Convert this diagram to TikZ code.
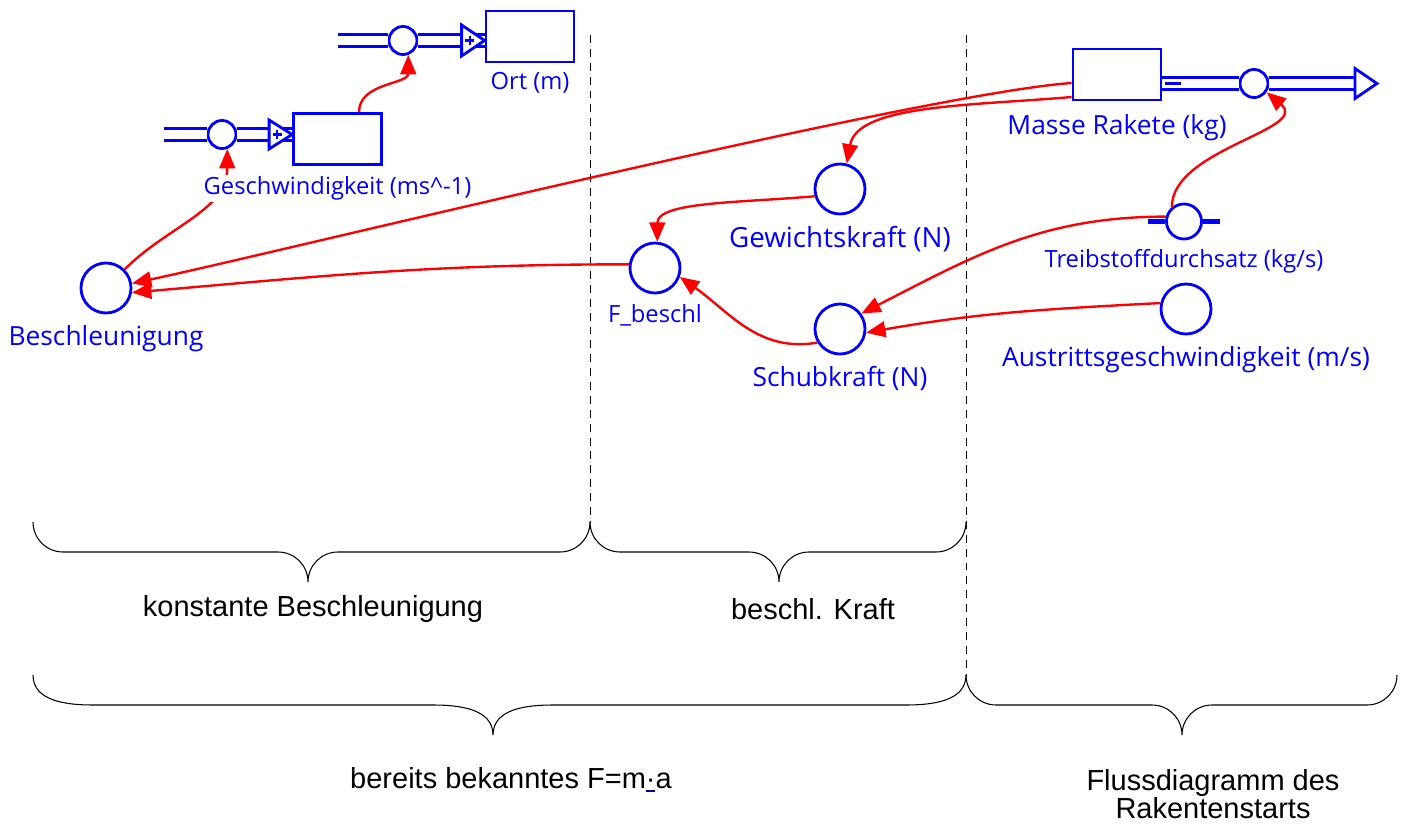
\documentclass[tikz,border=0pt]{standalone}
\usepackage{fontspec}
\setmainfont{Liberation Sans}
\newfontfamily\simfont{Open Sans}
\usetikzlibrary{arrows.meta,positioning}

\tikzset{
  aux/.style={circle, draw=blue, line width=1.6pt, fill=white, inner sep=0pt, minimum size=1.0cm},
  stock/.style={rectangle, draw=blue, line width=1.6pt, fill=white, minimum width=1.76cm, minimum height=1.02cm},
  valve/.style={circle, draw=blue, line width=1.6pt, fill=white, inner sep=0pt, minimum size=0.56cm},
  pipe/.style={draw=blue, line width=1.6pt, double=white, double distance=0.185cm},
  inflow/.style={draw=blue, line width=1.6pt, fill=white, line join=miter},
  bar/.style={blue, line width=2.8pt},
  lbl/.style={text=blue, font=\simfont\fontsize{15}{17}\selectfont, inner sep=1pt, fill=white},
  slbl/.style={text=blue, font=\simfont\fontsize{13.5}{15}\selectfont, inner sep=1pt, fill=white},
  link/.style={red, line width=1.35pt, -{Triangle[length=11pt,width=9pt]}},
  sep/.style={line width=0.5pt, dash pattern=on 4.5pt off 3.4pt},
  klammer/.style={line width=0.6pt},
  note/.style={font=\fontsize{16.5}{16}\selectfont, align=center, inner sep=1pt}
}

\begin{document}
\begin{tikzpicture}[line cap=butt]
  \useasboundingbox (0,0) rectangle (28.2,16.5);

  % Bereichsgrenzen
  \draw[sep] (11.80,15.80) -- (11.80,6.06);
  \draw[sep] (19.32,15.80) -- (19.32,3.00);

  % Bestaende, Ventile, Hilfsgroessen
  \node[stock] (ort) at (10.60,15.77) {};
  \node[valve] (ortv) at (8.06,15.69) {};
  \coordinate (ortsrc) at (6.76,15.69);
  \node[stock] (gbox) at (6.75,13.72) {};
  \node[valve] (gv) at (4.44,13.81) {};
  \coordinate (gsrc) at (3.28,13.81);
  \node[stock] (mbox) at (22.34,15.01) {};
  \node[valve] (mv) at (25.08,14.83) {};
  \coordinate (msink) at (27.10,14.83);
  \node[aux] (besch) at (2.12,10.74) {};
  \node[aux] (fb) at (13.10,11.14) {};
  \node[aux] (gew) at (16.80,12.72) {};
  \node[aux] (schub) at (16.80,9.92) {};
  \node[aux] (aus) at (23.72,10.32) {};
  \node[valve, minimum size=0.70cm] (tv) at (23.68,12.07) {};

  % Fluesse
  \coordinate (ortin) at (ort.west |- ortv);
  \draw[pipe] (ortsrc) -- (ortv);
  \draw[pipe] (ortv) -- (ortin);
  \draw[inflow] ([shift={(-0.46,0.31)}]ortin) -- (ortin) -- ([shift={(-0.46,-0.31)}]ortin) -- cycle;
  \draw[blue, line width=1.2pt] ([xshift=-0.39cm]ortin) -- ([xshift=-0.21cm]ortin)
    ([shift={(-0.30,-0.09)}]ortin) -- ([shift={(-0.30,0.09)}]ortin);

  \coordinate (gin) at (gbox.west |- gv);
  \draw[pipe] (gsrc) -- (gv);
  \draw[pipe] (gv) -- (gin);
  \draw[inflow] ([shift={(-0.46,0.29)}]gin) -- (gin) -- ([shift={(-0.46,-0.29)}]gin) -- cycle;
  \draw[blue, line width=1.2pt] ([xshift=-0.39cm]gin) -- ([xshift=-0.21cm]gin)
    ([shift={(-0.30,-0.09)}]gin) -- ([shift={(-0.30,0.09)}]gin);

  \coordinate (mout) at (mbox.east |- mv);
  \draw[pipe] (mout) -- (mv);
  \draw[pipe] (mv) -- (msink);
  \draw[inflow] ([yshift=0.30cm]msink) -- ([xshift=0.44cm]msink) -- ([yshift=-0.30cm]msink) -- cycle;
  \draw[blue, line width=1.2pt] ([xshift=0.06cm]mout) -- ([xshift=0.38cm]mout);

  \draw[bar] ([xshift=-0.34cm]tv.west) -- (tv.west);
  \draw[bar] (tv.east) -- ([xshift=0.34cm]tv.east);

  % Wirkungen
  \draw[link] ([xshift=0.43cm]gbox.north) to[out=90,in=-90] (ortv.-70);
  \draw[link] (besch.45) to[out=45,in=-90] (gv.-70);
  \draw[link] ([yshift=-0.17cm]mbox.west) .. controls +(184:3) and +(12:3) .. (besch.10);
  \draw[link] ([yshift=-0.45cm]mbox.west) .. controls +(185:2) and +(80:1.2) .. (gew.75);
  \draw[link] (gew.196) .. controls +(185:1.5) and +(90:0.8) .. (fb.85);
  \draw[link] (fb.172) to[out=180,in=5] (besch.-10);
  \draw[link] (schub.211) to[out=190,in=-35] (fb.-20);
  \draw[link] (tv.165) to[out=180,in=27] (schub.36);
  \draw[link] (aus.167) to[out=183,in=10] (schub.-8);
  \draw[link] (tv.130) to[out=90,in=-40] (mv.-35);

  % Beschriftungen
  \node[slbl, below=4pt of ort] (ortlbl) {Ort (m)};
  \node[slbl, below=5pt of gbox] (glbl) {Geschwindigkeit (ms\textasciicircum-1)};
  \node[lbl, below=6pt of mbox] (mlbl) {Masse Rakete (kg)};
  \node[lbl, below=5pt of besch] (beschlbl) {Beschleunigung};
  \node[slbl, below=4.5pt of fb] (fblbl) {F\_beschl};
  \node[lbl, below=5pt of gew, font=\simfont\fontsize{15.8}{17}\selectfont] (gewlbl) {Gewichtskraft (N)};
  \node[lbl, below=5pt of schub] (schublbl) {Schubkraft (N)};
  \node[slbl, below=4pt of tv] (tvlbl) {Treibstoffdurchsatz (kg/s)};
  \node[lbl, below=5pt of aus] (auslbl) {Austrittsgeschwindigkeit (m/s)};

  % Klammern
  \draw[klammer] (0.66,6.06) to[out=-90,in=180] (1.26,5.46) -- (5.56,5.46)
    to[out=0,in=90] (6.16,4.86) to[out=90,in=180] (6.76,5.46) -- (11.20,5.46)
    to[out=0,in=-90] (11.80,6.06);
  \draw[klammer] (11.80,6.06) to[out=-90,in=180] (12.40,5.46) -- (14.98,5.46)
    to[out=0,in=90] (15.58,4.86) to[out=90,in=180] (16.18,5.46) -- (18.72,5.46)
    to[out=0,in=-90] (19.32,6.06);
  \draw[klammer] (0.66,3.00) to[out=-90,in=180] (1.86,2.40) -- (8.66,2.40)
    to[out=0,in=90] (9.86,1.80) to[out=90,in=180] (11.06,2.40) -- (18.12,2.40)
    to[out=0,in=-90] (19.32,3.00);
  \draw[klammer] (19.32,3.00) to[out=-90,in=180] (19.92,2.40) -- (23.04,2.40)
    to[out=0,in=90] (23.64,1.80) to[out=90,in=180] (24.24,2.40) -- (27.34,2.40)
    to[out=0,in=-90] (27.94,3.00);

  \node[note] (konst) at (6.26,4.32) {konstante Beschleunigung};
  \node[note] (kraft) at (16.26,4.32) {beschl. Kraft};
  \node[note] (bekannt) at (10.22,0.90) {bereits bekanntes F=m\rlap{\color{blue!60!black}\rule[-0.12em]{0.3em}{0.07em}}·a};
  \node[note] (fluss) at (24.26,0.62) {Flussdiagramm des\\Rakentenstarts};
\end{tikzpicture}
\end{document}
